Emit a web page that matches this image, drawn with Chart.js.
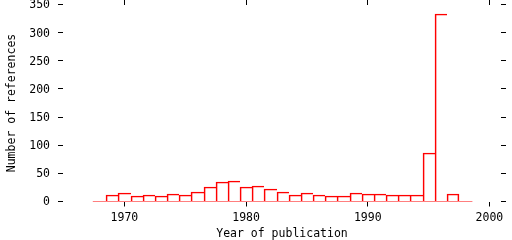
<!DOCTYPE html>
<html>
<head>
<meta charset="utf-8">
<title>Number of references per year</title>
<script src="https://cdn.jsdelivr.net/npm/chart.js@4/dist/chart.umd.min.js"></script>
<style>
  html, body { margin: 0; padding: 0; background: #fff; }
  #wrap { width: 512px; height: 240px; }
</style>
</head>
<body>
<div id="wrap"><canvas id="chart" width="512" height="240"></canvas></div>
<script>
// data
const years = [1969, 1970, 1971, 1972, 1973, 1974, 1975, 1976, 1977, 1978,
               1979, 1980, 1981, 1982, 1983, 1984, 1985, 1986, 1987, 1988,
               1989, 1990, 1991, 1992, 1993, 1994, 1995, 1996, 1997];
const counts = [11, 15, 9, 11, 9, 13, 11, 17, 26, 34,
                36, 26, 27, 22, 17, 11, 15, 11, 9, 9,
                15, 13, 13, 11, 11, 11, 86, 333, 13];
const baselineYears = [1967.4, 1998.6];
const xTicks = [1970, 1980, 1990, 2000];
const yTicks = [0, 50, 100, 150, 200, 250, 300, 350];

const RED = "#ff0000";
const FONT = { family: "'DejaVu Sans Mono', monospace", size: 11.5 };

Chart.defaults.font.family = FONT.family;
Chart.defaults.font.size = FONT.size;
Chart.defaults.color = "#000";

const tickGrid = { display: true, offset: false, drawOnChartArea: false, drawTicks: true, tickLength: 5, color: "#000", lineWidth: 1 };

// fixed box size, and no extra room for overhanging labels
function fixSize(w, h) {
    return s => {
        if (w != null) s.width = w;
        if (h != null) s.height = h;
        s.paddingTop = 0; s.paddingBottom = 0;
        s.paddingLeft = 0; s.paddingRight = 0;
    };
}

// keep bar edges on whole pixels, like the original plot
const snapBars = {
    id: "snapBars",
    beforeDatasetsDraw(chart) {
        chart.getDatasetMeta(0).data.forEach(bar => {
            const l = Math.round(bar.x - bar.width / 2);
            const r = Math.round(bar.x + bar.width / 2);
            bar.x = (l + r) / 2;
            bar.width = r - l;
            bar.y = Math.round(bar.y);
            bar.base = Math.round(bar.base);
        });
    }
};

const last = years.length - 1;

new Chart(document.getElementById("chart"), {
    type: "bar",
    data: {
        datasets: [
            {
                type: "bar",
                data: years.map((y, i) => ({ x: y, y: counts[i] })),
                backgroundColor: "rgba(0,0,0,0)",
                borderColor: RED,
                borderWidth: ctx => ({ left: 1, top: 1, right: ctx.dataIndex === last ? 1 : 0, bottom: 0 }),
                borderSkipped: false,
                barPercentage: 1,
                categoryPercentage: 1,
                xAxisID: "x",
                yAxisID: "y"
            },
            {
                type: "line",
                data: baselineYears.map(y => ({ x: y, y: 0 })),
                borderColor: RED,
                borderWidth: 1,
                pointRadius: 0,
                fill: false,
                xAxisID: "x",
                yAxisID: "y"
            }
        ]
    },
    options: {
        responsive: false,
        animation: false,
        devicePixelRatio: 1,
        layout: { padding: 0 },
        plugins: { legend: { display: false }, tooltip: { enabled: false } },
        scales: {
            x: {
                type: "linear",
                position: "bottom",
                offset: false,
                min: 1964.95,
                max: 2000.95,
                afterBuildTicks: s => { s.ticks = xTicks.map(v => ({ value: v })); },
                afterFit: fixSize(null, 38.5),
                grid: tickGrid,
                border: { display: false },
                ticks: { padding: 5, maxRotation: 0, autoSkip: false, callback: v => String(v) },
                title: { display: true, text: "Year of publication", padding: 0, font: { lineHeight: 1 } }
            },
            x2: {
                type: "linear",
                position: "top",
                offset: false,
                min: 1964.95,
                max: 2000.95,
                afterBuildTicks: s => { s.ticks = xTicks.map(v => ({ value: v })); },
                afterFit: fixSize(null, 4.5),
                grid: tickGrid,
                border: { display: false },
                ticks: { display: false }
            },
            y: {
                type: "linear",
                position: "left",
                min: 0,
                max: 350,
                afterBuildTicks: s => { s.ticks = yTicks.map(v => ({ value: v })); },
                afterFit: fixSize(63, null),
                grid: tickGrid,
                border: { display: false },
                ticks: { padding: 8, labelOffset: 1, callback: v => String(v) },
                title: { display: true, text: "Number of references", padding: { top: 6.5, bottom: 0 }, font: { lineHeight: 1 } }
            },
            y2: {
                type: "linear",
                position: "right",
                min: 0,
                max: 350,
                afterBuildTicks: s => { s.ticks = yTicks.map(v => ({ value: v })); },
                afterFit: fixSize(11, null),
                grid: tickGrid,
                border: { display: false },
                ticks: { display: false }
            }
        }
    },
    plugins: [snapBars]
});
</script>
</body>
</html>
